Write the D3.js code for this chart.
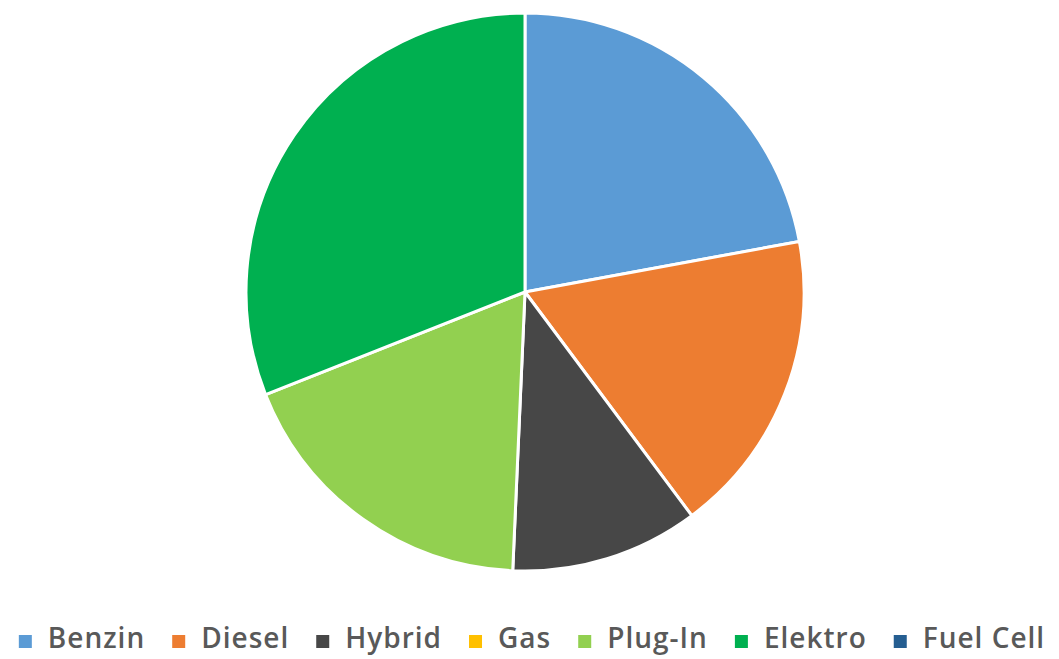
<!DOCTYPE html>
<html>
<head>
<meta charset="utf-8">
<script src="https://cdn.jsdelivr.net/npm/d3@7"></script>
<style>
html,body{margin:0;padding:0;background:#fff;}
svg{display:block;}
</style>
</head>
<body>
<svg id="chart" width="1059" height="659"></svg>
<script>
const categories = ["Benzin", "Diesel", "Hybrid", "Gas", "Plug-In", "Elektro", "Fuel Cell"];
const values = [22.1, 17.7, 10.9, 0, 18.3, 31.0, 0];
const colors = ["#5B9BD5", "#ED7D31", "#474747", "#FFC000", "#92D050", "#00B050", "#255E91"];

const svg = d3.select("#chart");
const cx = 525, cy = 292, r = 279;

const data = categories.map((c, i) => ({cat: c, value: values[i], color: colors[i]}));
const pie = d3.pie().value(d => d.value).sort(null);
const arc = d3.arc().innerRadius(0).outerRadius(r);

svg.append("g").attr("transform", `translate(${cx},${cy})`)
  .selectAll("path").data(pie(data).filter(d => d.data.value > 0)).join("path")
  .attr("d", arc)
  .attr("fill", d => d.data.color)
  .attr("stroke", "#fff")
  .attr("stroke-width", 3)
  .attr("stroke-linejoin", "round");

// Legend
const legend = svg.append("g");
const items = legend.selectAll("g").data(data).join("g");
items.append("rect").attr("width", 13).attr("height", 13).attr("y", -13)
  .attr("fill", d => d.color);
items.append("text").attr("x", 29).attr("y", 0)
  .attr("font-family", "'Open Sans', sans-serif")
  .attr("font-size", 28)
  .attr("font-weight", 600)
  .attr("letter-spacing", 1)
  .attr("fill", "#595959")
  .text(d => d.cat);
let x = 0;
const gap = 27;
items.each(function() {
  const w = this.getBBox().width;
  d3.select(this).attr("transform", `translate(${x},0)`);
  x += w + gap;
});
const total = x - gap;
legend.attr("transform", `translate(${532 - total / 2},648)`);
</script>
</body>
</html>
